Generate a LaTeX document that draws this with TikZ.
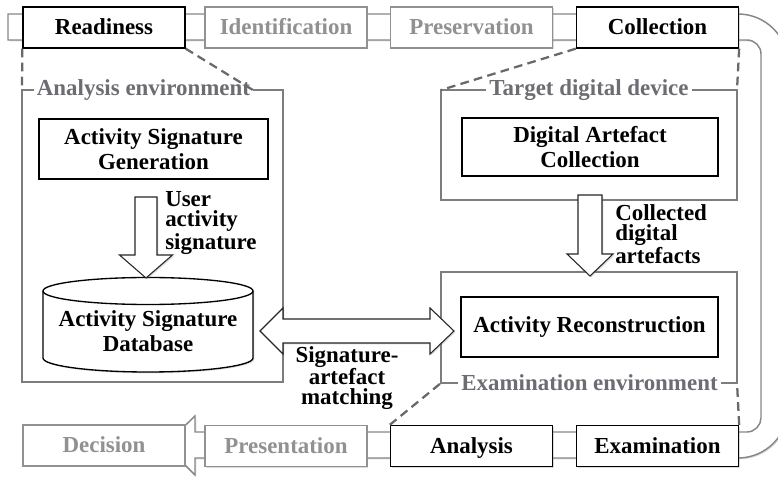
\documentclass[tikz,border=0pt]{standalone}
\usepackage{fontspec}
\setmainfont{Liberation Serif}
\usetikzlibrary{shadows}
\definecolor{lblgray}{RGB}{108,108,114}
\definecolor{stagegray}{RGB}{145,145,145}
\definecolor{linegray}{RGB}{125,125,125}
\definecolor{dashgray}{RGB}{105,105,105}
\definecolor{trackgray}{RGB}{135,135,135}
\begin{document}
\begin{tikzpicture}[x=0.75pt,y=-0.75pt,
  every node/.style={font=\fontsize{17.2}{18.75}\selectfont\bfseries},
  shad/.style={drop shadow={shadow xshift=1pt,shadow yshift=-1pt,opacity=0.28}},
  stagebox/.style={draw=black,fill=white,line width=1pt,minimum width=121.5pt,minimum height=30.75pt,inner sep=0pt,text height=12pt,text depth=0.8pt,shad},
  ghostbox/.style={stagebox,draw=stagegray,text=stagegray},
  innerbox/.style={draw=black,fill=white,line width=1pt,inner sep=0pt,align=center,shad},
  panel/.style={draw=linegray,line width=1.5pt},
  dashline/.style={draw=dashgray,line width=1.7pt,dash pattern=on 6.5pt off 4pt},
  envlabel/.style={text=lblgray,inner sep=2pt},
  blockarrow/.style={draw=black!85,fill=white,line width=0.8pt,shad},
  note/.style={font=\fontsize{17.2}{15}\selectfont\bfseries,inner sep=0pt},
  track/.style={draw=trackgray,fill=white,line width=1.1pt,shad}
]
\useasboundingbox (0,0) rectangle (778,477);

% process track (block arrow)
\begin{scope}
\clip (0,0) rectangle (778,477);
\draw[track] (8,14) -- (738,14) .. controls (765.6,14) and (788,36.4) .. (788,64)
  -- (788,408) .. controls (788,435.6) and (765.6,458) .. (738,458)
  -- (195,458) -- (195,475) -- (165,445) -- (195,416) -- (195,432)
  -- (747,432) .. controls (754.7,432) and (761,425.3) .. (761,418)
  -- (761,54) .. controls (761,46.3) and (754.7,40) .. (747,40)
  -- (8,40) -- cycle;
\end{scope}

% environment labels and panels
\node[envlabel,anchor=west] (lblA) at (34,90) {Analysis environment};
\node[envlabel] (lblT) at (589,90) {Target digital device};
\node[envlabel] (lblE) at (589.5,383) {Examination environment};
\draw[panel] (lblA.west) -- (22,90) -- (22,382) -- (283,382) -- (283,90) -- (lblA.east);
\draw[panel] (lblT.west) -- (441,90) -- (441,200) -- (737,200) -- (737,90) -- (lblT.east);
\draw[panel] (lblE.west) -- (441,383) -- (441,272) -- (737,272) -- (737,383) -- (lblE.east);

% stage boxes
\node[stagebox] (rd) at (104,27.5) {Readiness};
\node[ghostbox] (id) at (286,27.5) {Identification};
\node[ghostbox] (pr) at (471.5,27.5) {Preservation};
\node[stagebox] (co) at (657.5,27.5) {Collection};
\node[ghostbox] (de) at (104,445.5) {Decision};
\node[ghostbox] (pe) at (286,446) {Presentation};
\node[stagebox] (an) at (471.5,446) {Analysis};
\node[stagebox] (ex) at (657.5,446) {Examination};

% dashed zoom lines
\draw[dashline] (rd.south west) -- (22,90);
\draw[dashline] (rd.south east) -- (lblA.east);
\draw[dashline] (co.south west) -- (441,90);
\draw[dashline] (co.south east) -- (737,90);
\draw[dashline] (ex.north east) -- (737,383);
\draw[dashline] (an.north west) -- (441,383);

% inner boxes
\node[innerbox,minimum width=171.75pt,minimum height=45pt] (gen) at (153.5,149) {Activity Signature\\Generation};
\node[innerbox,minimum width=192pt,minimum height=43.5pt] (dac) at (590,147) {Digital Artefact\\Collection};
\node[innerbox,minimum width=192.75pt,minimum height=45pt] (rec) at (589.5,327) {Activity Reconstruction};

% database cylinder
\draw[fill=white,line width=1pt,shad] (43,291) -- (43,358)
  .. controls (43,365.7) and (90,372) .. (148,372)
  .. controls (206,372) and (253,365.7) .. (253,358) -- (253,291)
  .. controls (253,283.5) and (206,277.5) .. (148,277.5)
  .. controls (90,277.5) and (43,283.5) .. (43,291) -- cycle;
\draw[line width=1pt] (43,291) .. controls (43,298.5) and (90,304.5) .. (148,304.5)
  .. controls (206,304.5) and (253,298.5) .. (253,291);
\node[align=center] (db) at (148,331) {Activity Signature\\Database};

% block arrows
\draw[blockarrow] (135,197) -- (157,197) -- (157,255) -- (172.5,255) -- (146,278) -- (119.5,255) -- (135,255) -- cycle;
\draw[blockarrow] (578,195) -- (602,195) -- (602,254) -- (613,254) -- (590,276) -- (567,254) -- (578,254) -- cycle;
\draw[blockarrow] (260,331) -- (283,308) -- (283,319) -- (430,319) -- (430,308) -- (454,331) -- (430,354) -- (430,343) -- (283,343) -- (283,354) -- cycle;

% arrow labels
\node[note,anchor=west,align=left] (ua) at (165,223) {User\\activity\\signature};
\node[note,anchor=west,align=left] (cda) at (615,234) {Collected\\digital\\artefacts};
\node[note,align=center] (sam) at (347,378) {Signature-\\artefact\\matching};
\end{tikzpicture}
\end{document}
